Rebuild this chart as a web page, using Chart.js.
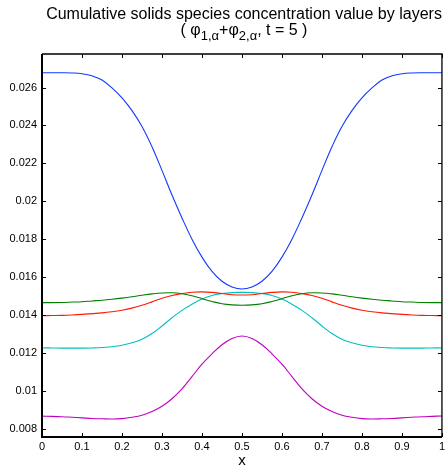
<!DOCTYPE html>
<html>
<head>
<meta charset="utf-8">
<script src="https://cdn.jsdelivr.net/npm/chart.js@4/dist/chart.umd.min.js"></script>
<style>
  html, body { margin: 0; padding: 0; background: #fff; }
  #wrap { position: relative; width: 448px; height: 470px; }
  #title {
    position: absolute; left: 42px; top: 6px; width: 404px;
    text-align: center; font-family: "Liberation Sans", Arial, sans-serif;
    font-size: 16px; line-height: 16px; color: #000; white-space: nowrap;
  }
  #title sub { font-size: 13px; vertical-align: -5px; line-height: 0; }
</style>
</head>
<body>
<div id="wrap">
  <canvas id="c" width="448" height="470"></canvas>
  <div id="title">Cumulative solids species concentration value by layers<br>( φ<sub>1,α</sub>+φ<sub>2,α</sub>, t = 5 )</div>
</div>
<script>
// --- data: x grid and one array per layer ---
const xs = [0, 0.025, 0.05, 0.075, 0.1, 0.125, 0.15, 0.175, 0.2, 0.225, 0.25, 0.275, 0.3, 0.325, 0.35, 0.375, 0.4, 0.425, 0.45, 0.475,
            0.5, 0.525, 0.55, 0.575, 0.6, 0.625, 0.65, 0.675, 0.7, 0.725, 0.75, 0.775, 0.8, 0.825, 0.85, 0.875, 0.9, 0.925, 0.95, 0.975, 1];

const layerBlue = [0.02678, 0.02678, 0.02678, 0.02677, 0.02673, 0.02662, 0.02640, 0.02598, 0.02545, 0.02478, 0.02395, 0.02288, 0.02163, 0.02033, 0.01912, 0.01800, 0.01705, 0.01630, 0.01578, 0.01548,
                   0.01537, 0.01548, 0.01578, 0.01630, 0.01705, 0.01800, 0.01912, 0.02033, 0.02163, 0.02288, 0.02395, 0.02478, 0.02545, 0.02598, 0.02640, 0.02662, 0.02673, 0.02677, 0.02678, 0.02678, 0.02678];
const layerGreen = [0.01465, 0.01465, 0.01466, 0.01468, 0.01470, 0.01474, 0.01478, 0.01483, 0.01489, 0.01496, 0.01504, 0.01511, 0.01516, 0.01517, 0.01512, 0.01501, 0.01486, 0.01471, 0.01459, 0.01453,
                    0.01451, 0.01453, 0.01459, 0.01471, 0.01486, 0.01501, 0.01512, 0.01517, 0.01516, 0.01511, 0.01504, 0.01496, 0.01489, 0.01483, 0.01478, 0.01474, 0.01470, 0.01468, 0.01466, 0.01465, 0.01465];
const layerRed = [0.01396, 0.01397, 0.01398, 0.01400, 0.01403, 0.01407, 0.01411, 0.01417, 0.01425, 0.01436, 0.01451, 0.01469, 0.01488, 0.01503, 0.01513, 0.01520, 0.01522, 0.01519, 0.01513, 0.01507,
                  0.01505, 0.01507, 0.01513, 0.01519, 0.01522, 0.01520, 0.01513, 0.01503, 0.01488, 0.01469, 0.01451, 0.01436, 0.01425, 0.01417, 0.01411, 0.01407, 0.01403, 0.01400, 0.01398, 0.01397, 0.01396];
const layerCyan = [0.01226, 0.01226, 0.01225, 0.01225, 0.01225, 0.01226, 0.01228, 0.01232, 0.01240, 0.01253, 0.01272, 0.01302, 0.01342, 0.01385, 0.01424, 0.01457, 0.01484, 0.01503, 0.01513, 0.01518,
                   0.01519, 0.01518, 0.01513, 0.01503, 0.01484, 0.01457, 0.01424, 0.01385, 0.01342, 0.01302, 0.01272, 0.01253, 0.01240, 0.01232, 0.01228, 0.01226, 0.01225, 0.01225, 0.01225, 0.01226, 0.01226];
const layerMagenta = [0.00866, 0.00865, 0.00863, 0.00860, 0.00857, 0.00854, 0.00852, 0.00851, 0.00853, 0.00860, 0.00871, 0.00890, 0.00918, 0.00958, 0.01010, 0.01075, 0.01140, 0.01195, 0.01243, 0.01276,
                      0.01289, 0.01276, 0.01243, 0.01195, 0.01140, 0.01075, 0.01010, 0.00958, 0.00918, 0.00890, 0.00871, 0.00860, 0.00853, 0.00851, 0.00852, 0.00854, 0.00857, 0.00860, 0.00863, 0.00865, 0.00867];

const xTicks = [0, 0.1, 0.2, 0.3, 0.4, 0.5, 0.6, 0.7, 0.8, 0.9, 1];
const yTicks = [0.008, 0.01, 0.012, 0.014, 0.016, 0.018, 0.02, 0.022, 0.024, 0.026];

const FONT = '"Liberation Sans", Arial, sans-serif';

function toPoints(ys) {
    return xs.map((x, i) => ({ x: x, y: ys[i] }));
}

function line(ys, color) {
    return {
        data: toPoints(ys),
        borderColor: color,
        borderWidth: 1.1,
        pointRadius: 0,
        fill: false,
        tension: 0.4
    };
}

// box frame + inward ticks on all four sides
const boxTicks = {
    id: 'boxTicks',
    afterDraw(chart) {
        const { ctx, chartArea: a, scales } = chart;
        const len = 4;
        ctx.save();
        ctx.strokeStyle = '#000';
        ctx.lineWidth = 1;
        ctx.beginPath();
        scales.x.ticks.forEach(t => {
            const px = Math.round(scales.x.getPixelForValue(t.value)) + 0.5;
            ctx.moveTo(px, a.bottom); ctx.lineTo(px, a.bottom - len);
            ctx.moveTo(px, a.top); ctx.lineTo(px, a.top + len);
        });
        scales.y.ticks.forEach(t => {
            const py = Math.round(scales.y.getPixelForValue(t.value)) + 0.5;
            ctx.moveTo(a.left, py); ctx.lineTo(a.left + len, py);
            ctx.moveTo(a.right, py); ctx.lineTo(a.right - len, py);
        });
        ctx.stroke();

        ctx.lineWidth = 1.3;
        ctx.beginPath();
        ctx.moveTo(a.left, a.top); ctx.lineTo(a.right, a.top); ctx.lineTo(a.right, a.bottom);
        ctx.stroke();
        ctx.lineWidth = 2;
        ctx.beginPath();
        ctx.moveTo(a.left, a.top); ctx.lineTo(a.left, a.bottom); ctx.lineTo(a.right, a.bottom);
        ctx.stroke();
        ctx.restore();
    }
};

new Chart(document.getElementById('c'), {
    type: 'line',
    data: {
        datasets: [
            line(layerBlue, '#1238ff'),
            line(layerGreen, '#008000'),
            line(layerRed, '#ff1a00'),
            line(layerCyan, '#00c0c0'),
            line(layerMagenta, '#c000c0')
        ]
    },
    options: {
        responsive: false,
        animation: false,
        layout: { padding: { top: 54, right: 2, left: 0, bottom: 0 } },
        plugins: { legend: { display: false }, tooltip: { enabled: false } },
        scales: {
            x: {
                type: 'linear',
                min: 0,
                max: 1,
                afterBuildTicks: s => { s.ticks = xTicks.map(v => ({ value: v })); },
                afterFit: s => { s.height = 33; },
                grid: { display: false, drawTicks: false },
                border: { display: false },
                ticks: {
                    padding: 3,
                    color: '#000',
                    font: { family: FONT, size: 11 },
                    maxRotation: 0,
                    callback: v => String(v)
                },
                title: {
                    display: true,
                    text: 'x',
                    color: '#000',
                    font: { family: FONT, size: 15 },
                    padding: { top: 0, bottom: 0 }
                }
            },
            y: {
                type: 'linear',
                min: 0.00756,
                max: 0.02777,
                afterBuildTicks: s => { s.ticks = yTicks.map(v => ({ value: v })); },
                afterFit: s => { s.width = 42; },
                grid: { display: false, drawTicks: false },
                border: { display: false },
                ticks: {
                    padding: 5,
                    color: '#000',
                    font: { family: FONT, size: 11 },
                    callback: v => String(v)
                }
            }
        }
    },
    plugins: [boxTicks]
});
</script>
</body>
</html>
